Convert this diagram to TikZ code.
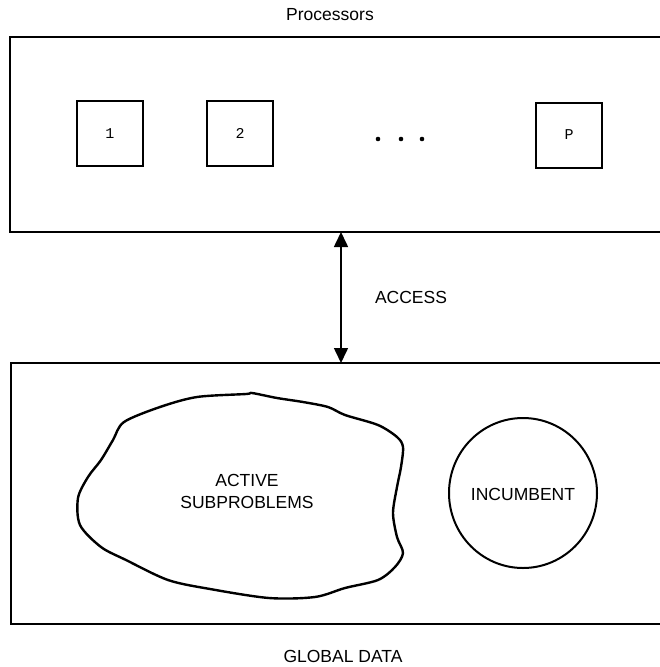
\documentclass[tikz,border=0pt]{standalone}
\usepackage{fontspec}
\setmainfont{Liberation Sans}
\newfontfamily\monofont{Liberation Mono}
\usetikzlibrary{arrows.meta,shapes.geometric}
\begin{document}
\begin{tikzpicture}[x=1pt,y=-1pt,
  frame/.style={line width=2pt},
  procbox/.style={draw,line width=2pt,minimum width=66pt,minimum height=65pt,inner sep=0pt,font=\monofont\fontsize{15}{17}\selectfont},
  lbl/.style={font=\fontsize{17.5}{22}\selectfont,inner sep=0pt},
  dual/.style={line width=1.6pt,{Triangle[length=15pt,width=14pt]}-{Triangle[length=15pt,width=14pt]}}]
\useasboundingbox (0,0) rectangle (659,667);
% titles
\node[lbl] (proc) at (330,15) {Processors};
\node[lbl] (glob) at (343,656) {GLOBAL DATA};
% top frame (runs off the right edge)
\draw[frame] (662,37) -- (10,37) -- (10,232) -- (662,232);
\coordinate (topbot) at (341,232);
% processor boxes
\node[procbox] (p1) at (110,133.5) {1};
\node[procbox] (p2) at (240,133.5) {2};
\node[procbox] (pP) at (569,135) {P};
\foreach \x [count=\i] in {378,401,422} \fill (\x,139) circle (2.3pt);
% bottom frame
\draw[frame] (662,363) -- (11,363) -- (11,624) -- (662,624);
\coordinate (bottop) at (341,363);
% access arrow
\draw[dual] (topbot) -- (bottop);
\node[lbl] (acc) at (411,297) {ACCESS};
% active subproblems blob
\draw[line width=2.4pt,line join=round] plot[smooth cycle,tension=0.5] coordinates {
 (246,394) (197,397) (160,407) (124,422) (113,440) (101,460) (88,477) (78,498)
 (80,525) (101,547) (126,560) (168,580) (210,589) (269,598) (315,597) (345,588)
 (378,580) (395,567) (403,553) (397,537) (393,513) (397,487) (401,467) (403,447)
 (397,437) (378,425) (345,415) (328,407) (303,402) (277,398) (252,393)};
\node[lbl,align=center] (act) at (247,491) {ACTIVE\\SUBPROBLEMS};
% incumbent
\node[draw,ellipse,line width=2pt,minimum width=148pt,minimum height=150pt,inner sep=0pt] (inc) at (523,493) {};
\node[lbl] (inct) at (523,494) {INCUMBENT};
\end{tikzpicture}
\end{document}
